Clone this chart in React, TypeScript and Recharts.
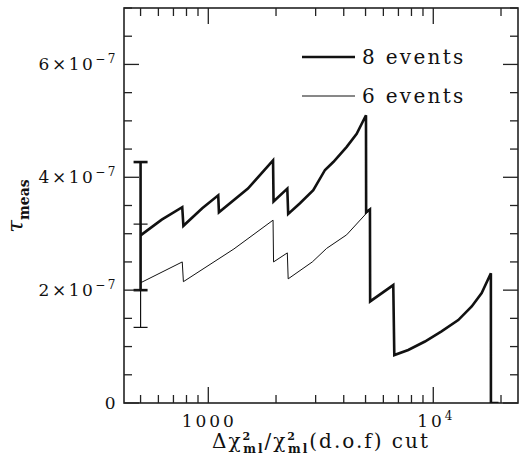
import React from "react";
import {
  ComposedChart,
  Line,
  Scatter,
  ErrorBar,
  XAxis,
  YAxis,
  Customized,
} from "recharts";

// tau values are in units of 1e-7
const cut8 = [500, 621, 766, 775, 940, 1107, 1115, 1500, 1940, 1950, 2245, 2265, 2556, 2928, 3302, 3594, 4123, 4566, 5022, 5030, 5230, 5240, 6640, 6710, 7740, 9180, 10880, 12910, 14820, 16410, 18030, 18040, 19500];
const tau8 = [2.97, 3.25, 3.47, 3.14, 3.45, 3.68, 3.38, 3.80, 4.30, 3.57, 3.80, 3.35, 3.54, 3.77, 4.13, 4.27, 4.54, 4.77, 5.10, 3.38, 3.43, 1.80, 2.09, 0.85, 0.94, 1.09, 1.27, 1.47, 1.71, 1.95, 2.30, 0, 0];

const cut6 = [500, 766, 775, 1300, 1940, 1950, 2245, 2265, 2900, 3357, 4120, 5230];
const tau6 = [2.13, 2.50, 2.15, 2.73, 3.24, 2.50, 2.66, 2.20, 2.50, 2.74, 2.98, 3.43];

// error bars at the first cut: [lower, upper] offsets
const err8 = [0.97, 1.30];
const err6 = [0.79, 1.04];

const seriesNames = ["8 events", "6 events"];

const xTicks = [500, 600, 700, 800, 900, 1000, 2000, 3000, 4000, 5000, 6000, 7000, 8000, 9000, 10000, 20000];
const yTicks = [0, 0.5, 1, 1.5, 2, 2.5, 3, 3.5, 4, 4.5, 5, 5.5, 6, 6.5, 7];
const yLabels = [0, 2, 4, 6];

const data8 = cut8.map((x, i) => ({ x, y: tau8[i] }));
const data6 = cut6.map((x, i) => ({ x, y: tau6[i] }));
const errData8 = [{ x: cut8[0], y: tau8[0], err: err8 }];
const errData6 = [{ x: cut6[0], y: tau6[0], err: err6 }];

const ink = "#111";
const frame = "#222";
const font = "'DejaVu Serif', serif";

// layout: plot box runs x 124..518, y 8..403
const W = 519;
const H = 464;
const top = 8;
const yAxisW = 124;
const xAxisH = 61;
const rightM = 1;
const plotW = W - yAxisW - rightM;
const plotH = H - top - xAxisH;

// bottom tick also draws its mirror on the top edge
const BottomTick = (props: any) => {
  const { x, y, payload } = props;
  const v = payload.value;
  const len = v === 1000 || v === 10000 ? 16 : 8;
  return (
    <g>
      <line x1={x} x2={x} y1={y} y2={y - len} stroke={frame} strokeWidth={1.3} />
      <line x1={x} x2={x} y1={y - plotH} y2={y - plotH + len} stroke={frame} strokeWidth={1.3} />
      {v === 1000 && (
        <text x={x + 1} y={y + 24} textAnchor="middle" fontFamily={font} fontSize={17} letterSpacing={3} fill={ink}>
          1000
        </text>
      )}
      {v === 10000 && (
        <text x={x + 3} y={y + 24} textAnchor="middle" fontFamily={font} fontSize={17} letterSpacing={3} fill={ink}>
          10<tspan dy={-7} fontSize={12}>4</tspan>
        </text>
      )}
    </g>
  );
};

// left tick also draws its mirror on the right edge
const LeftTick = (props: any) => {
  const { x, y, payload } = props;
  const v = payload.value;
  const major = yLabels.includes(v);
  const len = major ? 15 : 8;
  return (
    <g>
      <line x1={x} x2={x + len} y1={y} y2={y} stroke={frame} strokeWidth={1.3} />
      <line x1={x + plotW} x2={x + plotW - len} y1={y} y2={y} stroke={frame} strokeWidth={1.3} />
      {major && (
        <text x={x - 6} y={y + 6} textAnchor="end" fontFamily={font} fontSize={17} letterSpacing={2.5} fill={ink}>
          {v === 0 ? (
            "0"
          ) : (
            <>
              {v}×10<tspan dy={-7} fontSize={12}>−7</tspan>
            </>
          )}
        </text>
      )}
    </g>
  );
};

const Frame = () => (
  <rect x={yAxisW} y={top} width={plotW} height={plotH} fill="none" stroke={frame} strokeWidth={1.6} />
);

const Key = () => (
  <g fontFamily={font} fontSize={20} letterSpacing={2.3} fill={ink}>
    <line x1={302} x2={355} y1={57} y2={57} stroke={ink} strokeWidth={2.6} />
    <text x={362} y={63.5}>{seriesNames[0]}</text>
    <line x1={302} x2={355} y1={96} y2={96} stroke={ink} strokeWidth={1} />
    <text x={362} y={102.5}>{seriesNames[1]}</text>
  </g>
);

const XTitle = () => (
  <text x={321} y={448} textAnchor="middle" fontFamily={font} fontSize={20} letterSpacing={2} fill={ink}>
    Δχ<tspan dy={-8} fontSize={11} fontWeight="bold">2</tspan>
    <tspan dx={-9} dy={13} fontSize={12} fontWeight="bold">ml</tspan>
    <tspan dy={-5}>/χ</tspan>
    <tspan dy={-8} fontSize={11} fontWeight="bold">2</tspan>
    <tspan dx={-9} dy={13} fontSize={12} fontWeight="bold">ml</tspan>
    <tspan dy={-5}>(d.o.f)  cut</tspan>
  </text>
);

const YTitle = () => (
  <text x={0} y={0} transform="translate(23 206) rotate(-90)" fontFamily={font} fill={ink} textAnchor="middle">
    <tspan fontSize={23} fontStyle="italic">τ</tspan>
    <tspan dy={6} fontSize={14} fontWeight="bold">meas</tspan>
  </text>
);

export default function App() {
  return (
    <div style={{ position: "absolute", left: 0, top: 0, width: W, height: H, background: "#fff" }}>
      <ComposedChart width={W} height={H} margin={{ top, right: rightM, bottom: 0, left: 0 }}>
        <XAxis
          dataKey="x"
          type="number"
          scale="log"
          domain={[422, 23800]}
          allowDataOverflow
          ticks={xTicks}
          interval={0}
          tick={<BottomTick />}
          tickLine={false}
          tickSize={0}
          tickMargin={0}
          height={xAxisH}
          axisLine={false}
        />
        <YAxis
          type="number"
          domain={[0, 7]}
          allowDataOverflow
          ticks={yTicks}
          interval={0}
          tick={<LeftTick />}
          tickLine={false}
          tickSize={0}
          tickMargin={0}
          width={yAxisW}
          axisLine={false}
        />
        <Line
          data={data6}
          dataKey="y"
          name={seriesNames[1]}
          type="linear"
          stroke={ink}
          strokeWidth={1}
          dot={false}
          isAnimationActive={false}
        />
        <Line
          data={data8}
          dataKey="y"
          name={seriesNames[0]}
          type="linear"
          stroke={ink}
          strokeWidth={2.6}
          strokeLinejoin="miter"
          dot={false}
          isAnimationActive={false}
        />
        <Scatter data={errData6} dataKey="y" shape={() => <g />} isAnimationActive={false}>
          <ErrorBar dataKey="err" direction="y" width={7} stroke={ink} strokeWidth={1.2} />
        </Scatter>
        <Scatter data={errData8} dataKey="y" shape={() => <g />} isAnimationActive={false}>
          <ErrorBar dataKey="err" direction="y" width={7} stroke={ink} strokeWidth={2.6} />
        </Scatter>
        <Customized component={<Frame />} />
        <Customized component={<Key />} />
        <Customized component={<XTitle />} />
        <Customized component={<YTitle />} />
      </ComposedChart>
    </div>
  );
}
